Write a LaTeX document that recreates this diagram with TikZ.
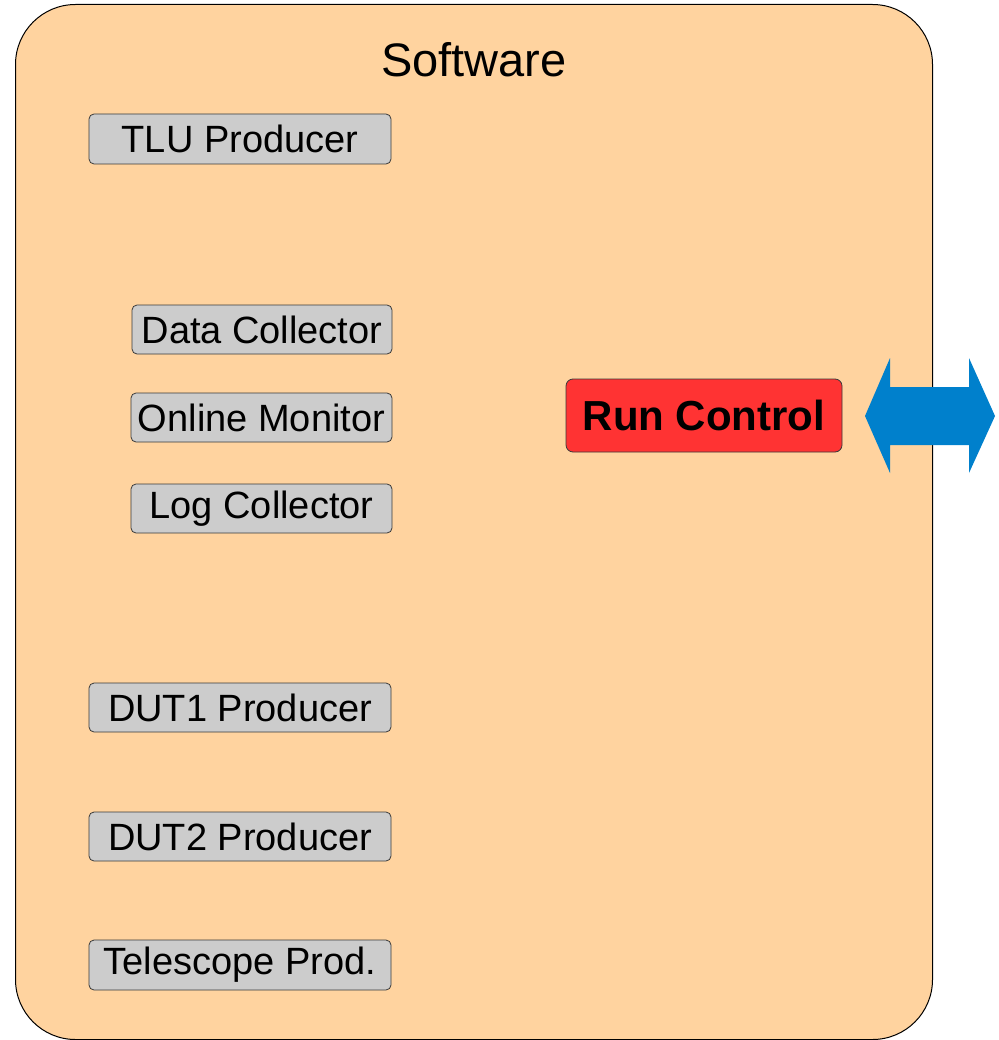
\documentclass[tikz,border=0pt]{standalone}
\usepackage{fontspec}
\setmainfont{Liberation Sans}
\definecolor{swfill}{HTML}{FFD39F}
\definecolor{boxgray}{HTML}{CCCCCC}
\definecolor{rcred}{HTML}{FF3333}
\definecolor{arrowblue}{HTML}{0080CC}
\definecolor{edge}{HTML}{3A3A3A}
\begin{document}
\begin{tikzpicture}[x=1pt,y=-1pt,
  grbox/.style={draw=edge,line width=0.8pt,fill=boxgray,rounded corners=5pt,inner sep=0pt,
    font=\fontsize{38}{40}\selectfont},
]
\useasboundingbox (0,0) rectangle (998,1040);
\node[draw=black,line width=1pt,fill=swfill,rounded corners=60pt,minimum width=917pt,minimum height=1035pt,anchor=north west,inner sep=0pt] (sw) at (15,4) {};
\node[font=\fontsize{47}{50}\selectfont] (title) at (474,60) {Software};
\node[grbox,minimum width=302pt,minimum height=50pt] (tlu) at (240,139) {TLU Producer};
\node[grbox,minimum width=260pt,minimum height=49pt] (dc) at (262,329.5) {Data Collector};
\node[grbox,minimum width=261pt,minimum height=49pt] (om) at (261.5,417.5) {Online Monitor};
\node[grbox,minimum width=261pt,minimum height=49pt] (lc) at (261.5,508.5) {Log Collector};
\node[grbox,minimum width=302pt,minimum height=49pt] (dut1) at (240,707.5) {DUT1 Producer};
\node[grbox,minimum width=302pt,minimum height=49pt] (dut2) at (240,836.5) {DUT2 Producer};
\node[grbox,minimum width=302pt,minimum height=50pt] (tel) at (240,965) {Telescope Prod.};
\node[draw=edge,line width=0.8pt,fill=rcred,rounded corners=7pt,minimum width=276pt,minimum height=73pt,inner sep=0pt,
  font=\bfseries\fontsize{42}{45}\selectfont] (rc) at (704,415.5) {Run Control};
\fill[arrowblue] (865,416) -- (890,358) -- (890,387) -- (969,387) -- (969,358) -- (995,416)
  -- (969,473) -- (969,445) -- (890,445) -- (890,473) -- cycle;
\end{tikzpicture}
\end{document}
